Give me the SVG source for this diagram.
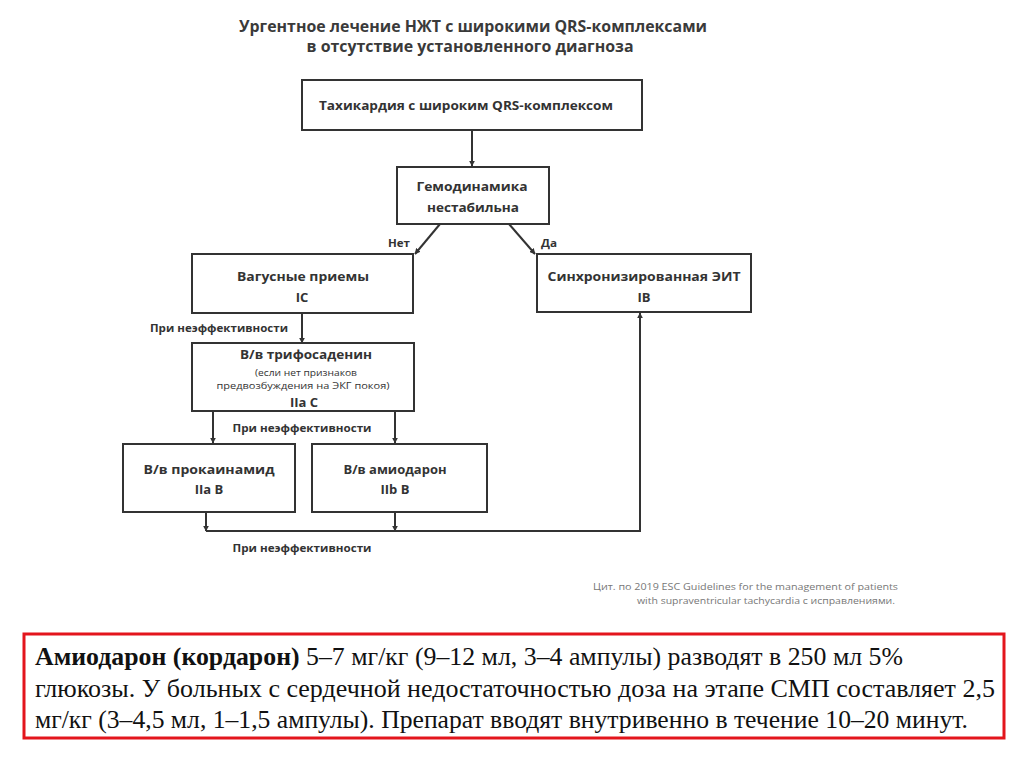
<svg xmlns="http://www.w3.org/2000/svg" width="1024" height="767" viewBox="0 0 1024 767">
<defs>
<marker id="ah" viewBox="0 0 10 10" refX="9" refY="5" markerWidth="6" markerHeight="6" markerUnits="userSpaceOnUse" orient="auto">
<path d="M0,0 L10,5 L0,10 z" fill="#333"/>
</marker>
<style>
.box{fill:#fff;stroke:#333;stroke-width:2}
.t{font-family:"Open Sans","Liberation Sans",sans-serif;font-weight:700;fill:#333;text-anchor:middle}
.n{font-size:13px}
.s{font-size:9px;font-weight:400}
.l{font-size:11px}
.ttl{font-size:15.5px;fill:#3a3a3a}
.c{font-family:"Open Sans","Liberation Sans",sans-serif;font-size:9.5px;fill:#777;text-anchor:end}
.ln{fill:none;stroke:#333;stroke-width:2}
.rt{font-family:"Liberation Serif","Times New Roman",serif;font-size:25px;fill:#111}
</style>
</defs>
<rect width="1024" height="767" fill="#fff"/>
<g id="title">
<text class="t ttl" x="473" y="32" textLength="468" lengthAdjust="spacingAndGlyphs">Ургентное лечение НЖТ с широкими QRS-комплексами</text>
<text class="t ttl" x="470" y="52" textLength="327" lengthAdjust="spacingAndGlyphs">в отсутствие установленного диагноза</text>
</g>
<g id="connectors">
<line class="ln" x1="472" y1="130" x2="472" y2="166" marker-end="url(#ah)"/>
<line class="ln" x1="440" y1="224" x2="415" y2="254" marker-end="url(#ah)"/>
<line class="ln" x1="509" y1="224" x2="535" y2="254" marker-end="url(#ah)"/>
<line class="ln" x1="302" y1="313" x2="302" y2="343" marker-end="url(#ah)"/>
<line class="ln" x1="213" y1="411" x2="213" y2="443" marker-end="url(#ah)"/>
<line class="ln" x1="395" y1="411" x2="395" y2="443" marker-end="url(#ah)"/>
<line class="ln" x1="206" y1="512" x2="206" y2="531" marker-end="url(#ah)"/>
<line class="ln" x1="395" y1="512" x2="395" y2="531" marker-end="url(#ah)"/>
<polyline class="ln" points="206,531 640,531 640,313" marker-end="url(#ah)"/>
<text class="t l" x="399" y="247" textLength="22" lengthAdjust="spacingAndGlyphs">Нет</text>
<text class="t l" x="549" y="247" textLength="16" lengthAdjust="spacingAndGlyphs">Да</text>
<text class="t l" x="219" y="332" textLength="138" lengthAdjust="spacingAndGlyphs">При неэффективности</text>
<text class="t l" x="302" y="432" textLength="139" lengthAdjust="spacingAndGlyphs">При неэффективности</text>
<text class="t l" x="302" y="552" textLength="139" lengthAdjust="spacingAndGlyphs">При неэффективности</text>
</g>
<g id="n1">
<rect class="box" x="302" y="80" width="340" height="50"/>
<text class="t n" x="466" y="110" textLength="294" lengthAdjust="spacingAndGlyphs">Тахикардия с широким QRS-комплексом</text>
</g>
<g id="n2">
<rect class="box" x="397" y="167" width="152" height="57"/>
<text class="t n" x="472" y="191" textLength="111" lengthAdjust="spacingAndGlyphs">Гемодинамика</text>
<text class="t n" x="473" y="212" textLength="92" lengthAdjust="spacingAndGlyphs">нестабильна</text>
</g>
<g id="n3">
<rect class="box" x="192" y="254" width="221" height="59"/>
<text class="t n" x="303" y="281" textLength="132" lengthAdjust="spacingAndGlyphs">Вагусные приемы</text>
<text class="t n" x="302" y="302">IC</text>
</g>
<g id="n4">
<rect class="box" x="537" y="254" width="214" height="58"/>
<text class="t n" x="644" y="281" textLength="193" lengthAdjust="spacingAndGlyphs">Синхронизированная ЭИТ</text>
<text class="t n" x="644" y="302">IB</text>
</g>
<g id="n5">
<rect class="box" x="192" y="343" width="222" height="68"/>
<text class="t n" x="306" y="359" textLength="132" lengthAdjust="spacingAndGlyphs">В/в трифосаденин</text>
<text class="t s" x="306" y="376" textLength="102" lengthAdjust="spacingAndGlyphs">(если нет признаков</text>
<text class="t s" x="303" y="389" textLength="173" lengthAdjust="spacingAndGlyphs">предвозбуждения на ЭКГ покоя)</text>
<text class="t n" x="304" y="407">IIa C</text>
</g>
<g id="n6">
<rect class="box" x="123" y="444" width="172" height="68"/>
<text class="t n" x="209" y="474" textLength="131" lengthAdjust="spacingAndGlyphs">В/в прокаинамид</text>
<text class="t n" x="209" y="494">IIa B</text>
</g>
<g id="n7">
<rect class="box" x="312" y="444" width="175" height="68"/>
<text class="t n" x="395" y="474" textLength="103" lengthAdjust="spacingAndGlyphs">В/в амиодарон</text>
<text class="t n" x="395" y="494">IIb B</text>
</g>
<g id="citation">
<text class="c" x="898" y="590" textLength="305" lengthAdjust="spacingAndGlyphs">Цит. по 2019 ESC Guidelines for the management of patients</text>
<text class="c" x="895" y="604" textLength="258" lengthAdjust="spacingAndGlyphs">with supraventricular tachycardia с исправлениями.</text>
</g>
<g id="note">
<rect x="24" y="634" width="980" height="104" fill="#fff" stroke="#e3151c" stroke-width="3"/>
<text class="rt" x="35" y="665" textLength="868" lengthAdjust="spacingAndGlyphs"><tspan font-weight="700">Амиодарон (кордарон)</tspan> 5–7 мг/кг (9–12 мл, 3–4 ампулы) разводят в 250 мл 5%</text>
<text class="rt" x="35" y="697" textLength="960" lengthAdjust="spacingAndGlyphs">глюкозы. У больных с сердечной недостаточностью доза на этапе СМП составляет 2,5</text>
<text class="rt" x="35" y="728" textLength="933" lengthAdjust="spacingAndGlyphs">мг/кг (3–4,5 мл, 1–1,5 ампулы). Препарат вводят внутривенно в течение 10–20 минут.</text>
</g>
</svg>
